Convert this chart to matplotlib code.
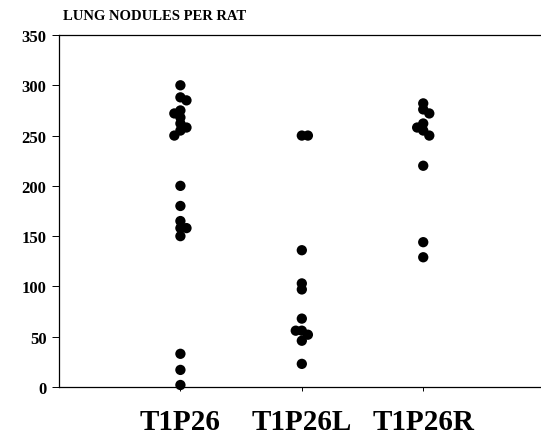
import matplotlib.pyplot as plt

# lung nodules per rat
groups = ['T1P26', 'T1P26L', 'T1P26R']
t1p26 = [300, 288, 285, 275, 272, 268, 262, 258, 255, 250,
         200, 180, 165, 158, 158, 150, 33, 17, 2]
t1p26l = [250, 250, 136, 103, 97, 68, 56, 56, 52, 46, 23]
t1p26r = [282, 276, 272, 262, 258, 255, 250, 220, 144, 129]
yticks = [0, 50, 100, 150, 200, 250, 300, 350]


def swarm(vals, gap=6, step=0.05):
    """重なる点を左右に少しずらす"""
    placed = []
    side = 1
    for v in sorted(vals, reverse=True):
        x = 0.0
        for k in [0, side, -side]:
            x = k * step
            if all(abs(v - pv) >= gap or abs(x - px) >= step * 0.9 for pv, px in placed):
                break
        if x != 0:
            side = -side
        placed.append((v, x))
    return placed


plt.rcParams['font.family'] = ['Liberation Serif', 'DejaVu Serif']
fig = plt.figure(figsize=(5.41, 4.35), dpi=100)
ax = fig.add_axes([59 / 541, 1 - 388 / 435, 1 - 59 / 541, 352 / 435])

for i, vals in enumerate([t1p26, t1p26l, t1p26r]):
    pts = swarm(vals)
    ax.scatter([i + 1 + dx for _, dx in pts], [v for v, _ in pts],
               s=55, color='black', edgecolors='none', zorder=3, clip_on=False)

ax.set_xlim(0, 3.97)
ax.set_ylim(0, 350)
ax.set_yticks(yticks)
ax.set_yticklabels([str(t) for t in yticks], fontsize=12, fontweight='bold')
ax.set_xticks([1, 2, 3])
ax.set_xticklabels(groups, fontsize=21, fontweight='bold')
ax.tick_params(axis='x', length=3, width=0.7, pad=12)
ax.tick_params(axis='y', length=5, width=0.7, pad=4)

ax.spines['right'].set_visible(False)
for s in ['left', 'top', 'bottom']:
    ax.spines[s].set_linewidth(0.9)

fig.text(63 / 541, 1 - 20 / 435, 'LUNG NODULES PER RAT', fontsize=10.5,
         fontweight='bold', va='baseline', ha='left')

fig.savefig('out.png', dpi=100)
